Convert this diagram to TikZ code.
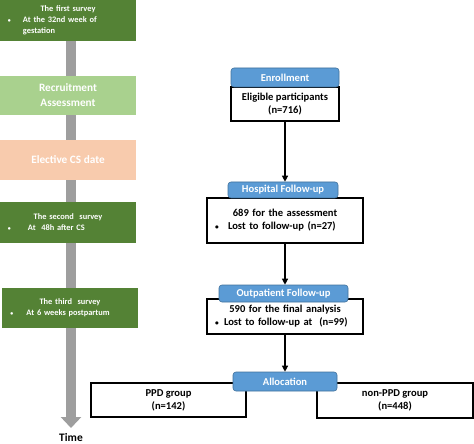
\documentclass[tikz,border=0pt]{standalone}
\usepackage{fontspec}
\setmainfont{Carlito}
\usetikzlibrary{arrows.meta,backgrounds}
\definecolor{darkgreen}{HTML}{548235}
\definecolor{lightgreen}{HTML}{A9D18E}
\definecolor{peach}{HTML}{F8CBAD}
\definecolor{headblue}{HTML}{5B9BD5}
\definecolor{headedge}{HTML}{41719C}
\newcommand{\bulletline}[2]{\par\raggedright\hangindent=#1\hangafter=1\noindent\makebox[#1][l]{\hspace{8bp}\raisebox{0.15ex}{\scalebox{0.7}{\textbullet}}}#2\par}
\tikzset{
  survey/.style={fill=darkgreen, text=white, font=\fontsize{8.4}{11}\selectfont\bfseries,
    text width=#1, minimum width=#1, inner xsep=0pt, inner ysep=0pt},
  phase/.style={fill=#1, text=white, font=\fontsize{11.3}{15}\selectfont\bfseries,
    minimum width=136bp, align=center, inner sep=0pt},
  header/.style={rounded corners=3bp, fill=headblue, draw=headedge, line width=0.6bp, text=white,
    font=\fontsize{10.6}{13}\selectfont\bfseries, inner sep=0pt},
  stagebox/.style={draw=black, line width=1.2bp, fill=white,
    font=\fontsize{10.6}{13}\selectfont\bfseries, inner sep=0pt},
  flow/.style={-{Triangle[length=6bp,width=6bp]}, line width=1.2bp},
  timeline/.style={-{Triangle[length=11bp,width=20bp]}, line width=10bp, draw=black!38}
}
\begin{document}
\begin{tikzpicture}[x=1bp, y=-1bp]
    \useasboundingbox (0,0) rectangle (474,444);
    % time line on the left
    \node[survey=136bp, minimum height=41bp] (s1) at (68,20.5)
        {{\centering The first survey\par}\bulletline{23bp}{At the 32nd week of\newline gestation}};
    \node[phase=lightgreen, minimum height=39bp] (recruit) at (68,95.5) {Recruitment\\Assessment};
    \node[phase=peach, minimum height=40bp] (csdate) at (68,160) {Elective CS date};
    \node[survey=136bp, minimum height=41bp] (s2) at (68,222.5)
        {{\centering The second\ \ survey\par}\bulletline{28bp}{At\ \ 48h after CS}};
    \node[survey=135bp, minimum height=40bp] (s3) at (70,308)
        {{\centering The third\ \ survey\par}\bulletline{24bp}{At 6 weeks postpartum}};
    \coordinate (tend) at (71,428);
    \node[font=\fontsize{11.5}{13}\selectfont\bfseries] (time) at (71,438) {Time};
    \begin{scope}[on background layer]
        \draw[timeline] (s1.south -| tend) -- (tend);
    \end{scope}
    % flow chart on the right
    \node[stagebox, minimum width=108bp, minimum height=34bp, align=center] (enrbody) at (285,104)
        {Eligible participants\\(n=716)};
    \node[header, minimum width=108bp, minimum height=19bp] (enrhead) at (285,77.5) {Enrollment};
    \node[stagebox, minimum width=156bp, minimum height=45bp, text width=156bp] (hospbody) at (285,220.5)
        {{\centering 689 for the assessment\par}\bulletline{21bp}{Lost to follow-up (n=27)}\vspace{5bp}};
    \node[header, minimum width=110bp, minimum height=16bp] (hosphead) at (283,190) {Hospital Follow-up};
    \node[stagebox, minimum width=156bp, minimum height=35bp, text width=156bp] (outbody) at (285,316.5)
        {{\centering 590 for the final analysis\par}\bulletline{17bp}{Lost to follow-up at\ \ (n=99)}};
    \node[header, minimum width=129bp, minimum height=17bp] (outhead) at (283.5,293.5) {Outpatient Follow-up};
    \node[stagebox, minimum width=155bp, minimum height=34bp, align=center] (ppd) at (168.5,400)
        {PPD group\\(n=142)};
    \node[stagebox, minimum width=156bp, minimum height=35bp, align=center] (nonppd) at (395,400.5)
        {non-PPD group\\(n=448)};
    \node[header, minimum width=104bp, minimum height=19bp] (allochead) at (285,381.5) {Allocation};
    \draw[flow] (enrbody.south) -- (enrbody.south |- hosphead.north);
    \draw[flow] (hospbody.south) -- (hospbody.south |- outhead.north);
    \draw[flow] (outbody.south) -- (outbody.south |- allochead.north);
\end{tikzpicture}
\end{document}
